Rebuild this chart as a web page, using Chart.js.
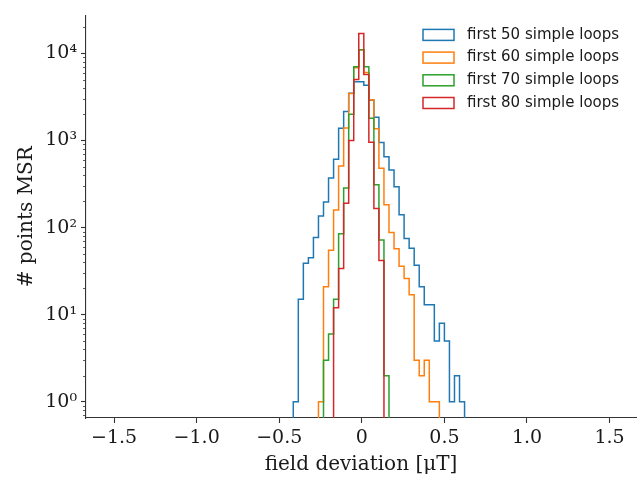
<!DOCTYPE html>
<html>
<head>
<meta charset="utf-8">
<script src="https://cdn.jsdelivr.net/npm/chart.js@4.4.0/dist/chart.umd.min.js"></script>
<style>
  html, body { margin: 0; padding: 0; background: #fff; }
</style>
</head>
<body>
<canvas id="graficoDesvio" width="643" height="482"></canvas>
<script>
// bins shared by all series (field deviation, µT)
const binStart = -0.415;
const binWidth = 0.0305;

const seriesLabels = ['first 50 simple loops', 'first 60 simple loops', 'first 70 simple loops', 'first 80 simple loops'];
const seriesColors = ['#1f77b4', '#ff7f0e', '#2ca02c', '#d62728'];

// index of the first filled bin of each series
const firstBin = [0, 5, 6, 8];

// counts per bin
const counts50 = [1, 15, 39, 45, 77, 136, 197, 370, 610, 1380, 2150, 3470, 4700, 4700, 4300, 2900, 1850, 945,
                  650, 457, 295, 140, 75, 58, 37, 21, 13, 13, 5, 8, 5, 1, 2, 1];
const counts60 = [1, 21, 55, 159, 510, 1390, 3450, 6800, 11000, 6000, 2930, 1360, 480, 183, 88, 57, 36, 26,
                  17, 3, 2, 3, 1, 1];
const counts70 = [3, 6, 15, 85, 285, 2000, 7000, 11000, 7000, 1800, 310, 72, 2];
const counts80 = [12, 34, 190, 1000, 5000, 16900, 5700, 950, 165, 42];

const xTicks = [-1.5, -1.0, -0.5, 0, 0.5, 1.0, 1.5];
const yTicks = [1, 10, 100, 1000, 10000];

const allCounts = [counts50, counts60, counts70, counts80];

const FLOOR = 0.1; // below the axis, so the outline drops off the bottom
const edge = k => binStart + k * binWidth;

function stepPoints(first, counts) {
    const pts = [{ x: edge(first), y: FLOOR }];
    counts.forEach((c, i) => pts.push({ x: edge(first + i), y: c }));
    pts.push({ x: edge(first + counts.length), y: FLOOR });
    return pts;
}

const sup = { '0': '\u2070', '1': '\u00b9', '2': '\u00b2', '3': '\u00b3', '4': '\u2074' };
const serif = 'DejaVu Serif';

// legend drawn inside the axes, top right
const legendInside = {
    id: 'legendInside',
    afterDatasetsDraw(chart) {
        const ctx = chart.ctx;
        const area = chart.chartArea;
        ctx.save();
        ctx.font = '15px "DejaVu Sans"';
        ctx.textBaseline = 'middle';
        ctx.textAlign = 'left';
        chart.data.datasets.forEach((ds, i) => {
            const cy = area.top + 19.5 + i * 22.7;
            const x0 = area.right - 213;
            ctx.lineWidth = 1.5;
            ctx.strokeStyle = ds.borderColor;
            ctx.strokeRect(x0, cy - 5.5, 31, 11);
            ctx.fillStyle = '#1a1a1a';
            ctx.fillText(ds.label, x0 + 44, cy);
        });
        ctx.restore();
    }
};

// minor ticks of the log axis
const minorTicks = {
    id: 'minorTicks',
    afterDraw(chart) {
        const y = chart.scales.y;
        const ctx = chart.ctx;
        ctx.save();
        ctx.strokeStyle = '#333';
        ctx.lineWidth = 0.8;
        for (let e = -1; e <= 4; e++) {
            for (let m = 2; m <= 9; m++) {
                const v = m * Math.pow(10, e);
                if (v < y.min || v > y.max) continue;
                const py = Math.round(y.getPixelForValue(v)) + 0.5;
                ctx.beginPath();
                ctx.moveTo(y.right - 3, py);
                ctx.lineTo(y.right, py);
                ctx.stroke();
            }
        }
        ctx.restore();
    }
};

new Chart(document.getElementById('graficoDesvio'), {
    type: 'line',
    data: {
        datasets: allCounts.map((c, i) => ({
            label: seriesLabels[i],
            data: stepPoints(firstBin[i], c),
            borderColor: seriesColors[i],
            backgroundColor: 'transparent',
            borderWidth: 1.5,
            pointRadius: 0,
            stepped: true,
            fill: false,
            tension: 0,
            order: 4 - i
        }))
    },
    options: {
        responsive: false,
        animation: false,
        devicePixelRatio: 1,
        layout: { padding: { top: 10, right: 7, left: 0, bottom: 0 } },
        plugins: {
            legend: { display: false },
            tooltip: { enabled: false }
        },
        scales: {
            x: {
                type: 'linear',
                min: -1.67,
                max: 1.66,
                afterBuildTicks: s => { s.ticks = xTicks.map(v => ({ value: v })); },
                afterFit: s => { s.height = 64; },
                grid: { drawOnChartArea: false, drawTicks: true, tickLength: 5, tickColor: '#333', tickWidth: 1.1 },
                border: { display: true, color: '#333', width: 1.1 },
                ticks: {
                    autoSkip: false,
                    maxRotation: 0,
                    padding: 4,
                    color: '#1a1a1a',
                    font: { family: serif, size: 19 },
                    callback: v => v === 0 ? '0' : (v < 0 ? '\u2212' : '') + Math.abs(v).toFixed(1)
                },
                title: {
                    display: true,
                    text: 'field deviation [\u03bcT]',
                    color: '#1a1a1a',
                    font: { family: serif, size: 20 },
                    padding: { top: 2, bottom: 5 }
                }
            },
            y: {
                type: 'logarithmic',
                min: 0.653,
                max: 27200,
                afterBuildTicks: s => { s.ticks = yTicks.map(v => ({ value: v, major: true })); },
                afterFit: s => { s.width = 86; },
                grid: { drawOnChartArea: false, drawTicks: true, tickLength: 5, tickColor: '#333', tickWidth: 1.1 },
                border: { display: true, color: '#333', width: 1.1 },
                ticks: {
                    autoSkip: false,
                    padding: 4,
                    color: '#1a1a1a',
                    font: { family: serif, size: 19 },
                    callback: v => '10' + String(Math.round(Math.log10(v))).split('').map(d => sup[d]).join('')
                },
                title: {
                    display: true,
                    text: '# points MSR',
                    color: '#1a1a1a',
                    font: { family: serif, size: 20 },
                    padding: { top: 15, bottom: 0 }
                }
            }
        }
    },
    plugins: [legendInside, minorTicks]
});
</script>
</body>
</html>
